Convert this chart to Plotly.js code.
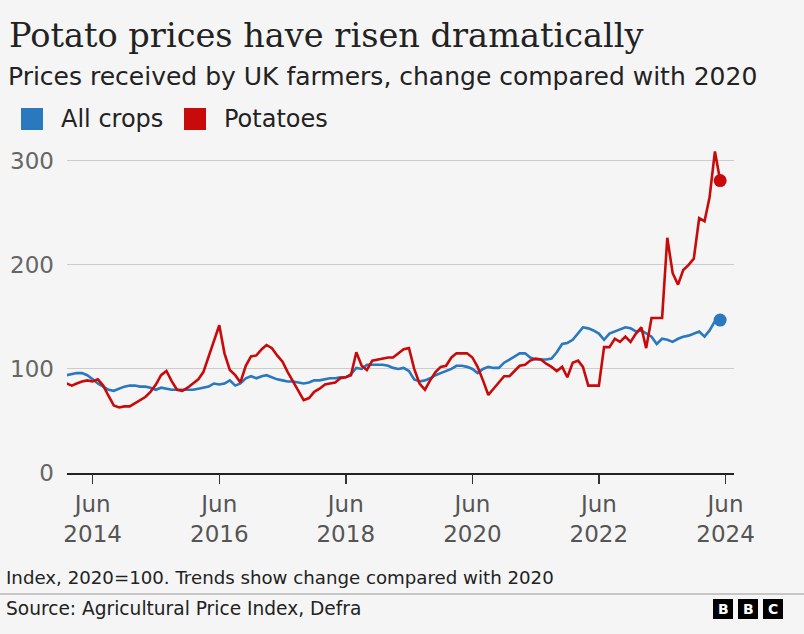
<!DOCTYPE html>
<html><head><meta charset="utf-8">
<script src="https://cdn.plot.ly/plotly-3.0.1.min.js"></script>
<style>html,body{margin:0;padding:0;background:#f5f5f5;} #chart{width:804px;height:634px;}</style>
</head><body><div id="chart"></div>
<script>
const seriesNames = ['All crops', 'Potatoes'];
const seriesColors = ['#2a78bd', '#c80a0a'];
const firstYear = 2014, firstMonthIndex = 0; // January 2014, monthly data
const allCrops = [
  94, 95, 96, 96, 94, 90, 86, 83, 80, 79, 81, 83,
  84, 84, 83, 83, 82, 80, 82, 81, 80, 80, 80, 80,
  80, 81, 82, 83, 86, 85, 86, 89, 84, 86, 91, 93,
  91, 93, 94, 92, 90, 89, 88, 88, 87, 86, 87, 89,
  89, 90, 91, 91, 92, 92, 95, 101, 100, 104, 104, 104,
  104, 103, 101, 100, 101, 98, 90, 88, 89, 91, 94, 96,
  98, 100, 103, 103, 102, 100, 96, 100, 102, 101, 101, 106,
  109, 112, 115, 115, 111, 109, 109, 109, 110, 116, 124, 125,
  128, 134, 140, 139, 137, 134, 128, 134, 136, 138, 140, 139,
  136, 137, 134, 131, 124, 129, 128, 126, 129, 131, 132, 134,
  136, 131, 137, 146, 147
];
const potatoes = [
  86, 84, 86, 88, 89, 88, 90, 84, 74, 65, 63, 64,
  64, 67, 70, 73, 78, 85, 94, 98, 88, 80, 79, 82,
  86, 90, 97, 112, 128, 142, 115, 99, 94, 87, 103, 112,
  113, 119, 123, 120, 113, 107, 97, 88, 78, 70, 72, 78,
  81, 85, 86, 87, 91, 92, 94, 116, 103, 99, 108, 109,
  110, 111, 111, 115, 119, 120, 100, 86, 80, 89, 97, 102,
  103, 111, 115, 115, 115, 111, 102, 89, 75, 81, 87, 93,
  93, 98, 103, 104, 108, 110, 109, 105, 102, 98, 102, 92,
  106, 108, 102, 84, 84, 84, 121, 121, 129, 126, 131, 126,
  134, 140, 120, 149, 149, 149, 226, 192, 181, 195, 200, 206,
  245, 242, 265, 309, 281
];
const tickDates = ['2014-06-01', '2016-06-01', '2018-06-01', '2020-06-01', '2022-06-01', '2024-06-01'];
const tickLabels = ['Jun<br>2014', 'Jun<br>2016', 'Jun<br>2018', 'Jun<br>2020', 'Jun<br>2022', 'Jun<br>2024'];
const yTicks = [0, 100, 200, 300];
const titleText = 'Potato prices have risen dramatically';
const subtitleText = 'Prices received by UK farmers, change compared with 2020';
const noteText = 'Index, 2020=100. Trends show change compared with 2020';
const sourceText = 'Source: Agricultural Price Index, Defra';

function monthDates(n) {
  const out = [];
  for (let i = 0; i < n; i++) {
    const m = firstMonthIndex + i;
    const y = firstYear + Math.floor(m / 12);
    const mm = (m % 12) + 1;
    out.push(y + '-' + String(mm).padStart(2, '0') + '-01');
  }
  return out;
}
const dates = monthDates(allCrops.length);

const W = 804, H = 634;
const L = 67, R = 734, T = 140, B = 473;
const px = x => (x - L) / (R - L);
const py = y => (B - y) / (B - T);

const sans = 'DejaVu Sans';
const serif = 'DejaVu Serif';

const series = [allCrops, potatoes];
const traces = [];
series.forEach((vals, i) => {
  traces.push({
    type: 'scatter', mode: 'lines', x: dates, y: vals, name: seriesNames[i],
    line: {color: seriesColors[i], width: 2.6}, hoverinfo: 'skip', showlegend: false
  });
});
series.forEach((vals, i) => {
  traces.push({
    type: 'scatter', mode: 'markers', x: [dates[vals.length - 1]], y: [vals[vals.length - 1]],
    marker: {color: seriesColors[i], size: 13}, hoverinfo: 'skip', showlegend: false
  });
});

const shapes = [];
const annotations = [];
function textAt(x, y, text, size, opts) {
  annotations.push(Object.assign({
    xref: 'paper', yref: 'paper', x: px(x), y: py(y), text: text,
    xanchor: 'left', yanchor: 'middle', showarrow: false,
    font: {family: sans, size: size, color: '#222'}
  }, opts || {}));
}
function rectAt(x0, y0, x1, y1, color) {
  shapes.push({type: 'rect', xref: 'paper', yref: 'paper', x0: px(x0), x1: px(x1), y0: py(y1), y1: py(y0),
    fillcolor: color, line: {width: 0}, layer: 'above'});
}

textAt(7, 36, titleText, 33.6, {font: {family: serif, size: 33.6, color: '#222'}});
textAt(6, 77, subtitleText, 25, {font: {family: sans, size: 25, color: '#222'}});

const legendX = [[21, 63], [184, 226]];
seriesNames.forEach((n, i) => {
  rectAt(legendX[i][0], 108, legendX[i][0] + 22, 130, seriesColors[i]);
  textAt(legendX[i][1] - 4, 119, n, 24);
});

textAt(4, 577, noteText, 18.2);
shapes.push({type: 'line', xref: 'paper', yref: 'paper', x0: px(0), x1: px(804), y0: py(594), y1: py(594),
  line: {color: '#999', width: 1}});
textAt(4, 608, sourceText, 18.6);

['B', 'B', 'C'].forEach((ch, i) => {
  const x0 = 713 + i * 25;
  rectAt(x0, 599, x0 + 20, 619, '#000');
  annotations.push({xref: 'paper', yref: 'paper', x: px(x0 + 10), y: py(609), text: '<b>' + ch + '</b>',
    xanchor: 'center', yanchor: 'middle', showarrow: false,
    font: {family: sans, size: 14, color: '#fff'}});
});

const layout = {
  width: W, height: H,
  margin: {l: L, r: W - R, t: T, b: H - B, pad: 0},
  paper_bgcolor: '#f5f5f5', plot_bgcolor: '#f5f5f5',
  showlegend: false,
  xaxis: {
    type: 'date', range: ['2014-01-04', '2024-07-20'],
    tickmode: 'array', tickvals: tickDates, ticktext: tickLabels,
    ticks: 'outside', ticklen: 9, tickwidth: 1.5, tickcolor: '#333',
    showline: true, linecolor: '#222', linewidth: 2,
    showgrid: false, zeroline: false,
    tickfont: {family: sans, size: 23, color: '#555'}, fixedrange: true
  },
  yaxis: {
    range: [0, 320], tickmode: 'array', tickvals: yTicks, ticktext: yTicks.map(String),
    showgrid: true, gridcolor: '#cccccc', gridwidth: 1,
    zeroline: false, showline: false, ticks: '',
    ticklabelstandoff: 12,
    tickfont: {family: sans, size: 23, color: '#666'}, fixedrange: true
  },
  shapes: shapes,
  annotations: annotations
};

Plotly.newPlot('chart', traces, layout, {displayModeBar: false, staticPlot: true});
</script>
</body></html>
